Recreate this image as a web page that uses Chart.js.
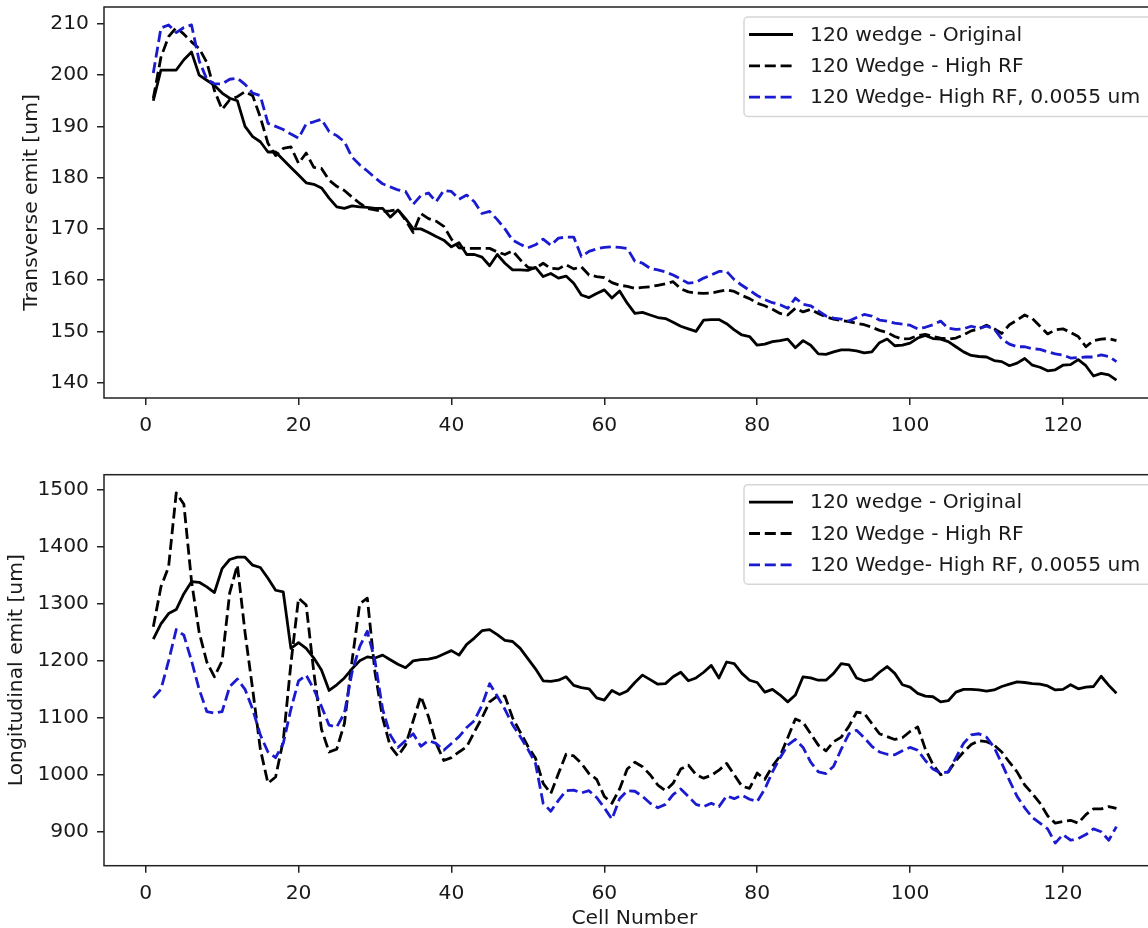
<!DOCTYPE html>
<html>
<head>
<meta charset="utf-8">
<script src="https://cdn.jsdelivr.net/npm/chart.js@4.4.1/dist/chart.umd.min.js"></script>
<style>
  html, body { margin: 0; padding: 0; background: #fff; overflow: hidden; }
  #wrap { position: relative; width: 1148px; height: 928px; overflow: hidden; background: #fff; }
  #wrap canvas { position: absolute; left: 0; }
  #transCanvas { top: 0; }
  #longCanvas { top: 440px; }
</style>
</head>
<body>
<div id="wrap">
  <canvas id="transCanvas" width="1180" height="440" style="width:1180px;height:440px"></canvas>
  <canvas id="longCanvas" width="1180" height="491" style="width:1180px;height:491px"></canvas>
</div>
<script>
// Cell index along the channel
const cells = [
  1, 2, 3, 4, 5, 6, 7, 8, 9, 10, 11, 12, 13, 14, 15, 16, 17, 18, 19, 20,
  21, 22, 23, 24, 25, 26, 27, 28, 29, 30, 31, 32, 33, 34, 35, 36, 37, 38, 39, 40,
  41, 42, 43, 44, 45, 46, 47, 48, 49, 50, 51, 52, 53, 54, 55, 56, 57, 58, 59, 60,
  61, 62, 63, 64, 65, 66, 67, 68, 69, 70, 71, 72, 73, 74, 75, 76, 77, 78, 79, 80,
  81, 82, 83, 84, 85, 86, 87, 88, 89, 90, 91, 92, 93, 94, 95, 96, 97, 98, 99, 100,
  101, 102, 103, 104, 105, 106, 107, 108, 109, 110, 111, 112, 113, 114, 115, 116, 117, 118, 119, 120,
  121, 122, 123, 124, 125, 126, 127
];

const seriesLabels = ['120 wedge - Original', '120 Wedge - High RF', '120 Wedge- High RF, 0.0055 um'];

// Transverse emittance [um]
const transOriginal = [
  195, 201, 201, 201, 203, 204.5, 200, 199, 198, 196.5,
  195.5, 195, 190, 188, 187, 185, 185, 183.5, 182, 180.5,
  179, 178.7, 178, 176, 174.3, 174, 174.5, 174.3, 174.2, 174,
  174, 172.3, 173.7, 172, 170, 170, 169.3, 168.5, 167.8, 166.5,
  167.3, 165, 165, 164.5, 162.8, 165, 163.3, 162, 162, 161.9,
  162.5, 160.7, 161.3, 160.4, 160.8, 159.4, 157.1, 156.6, 157.4, 158.1,
  156.5, 157.9, 155.5, 153.5, 153.7, 153.2, 152.7, 152.5, 151.8, 151,
  150.5, 150, 152.2, 152.3, 152.3, 151.5, 150.3, 149.3, 149, 147.3,
  147.5, 148, 148.2, 148.5, 146.8, 148.2, 147.3, 145.6, 145.5, 146,
  146.4, 146.4, 146.2, 145.8, 146, 147.8, 148.5, 147.2, 147.3, 147.7,
  148.7, 149.2, 148.6, 148.5, 148, 147, 146, 145.3, 145.1, 145,
  144.3, 144.1, 143.3, 143.8, 144.7, 143.4, 143, 142.3, 142.5, 143.4,
  143.5, 144.5, 143.3, 141.3, 141.8, 141.5, 140.5
];
const transHighRF = [
  195.5, 203.5, 207.5, 209.3, 208, 206.5, 205.2, 202.5, 197, 193.3,
  195.2, 195.8, 196.8, 196, 191.8, 186.7, 184.3, 185.7, 186, 182.8,
  184.8, 182, 181.8, 179.5, 178.3, 177.5, 176.2, 175, 174, 173.7,
  173.4, 173.5, 173.8, 171.7, 169.3, 173, 172, 171.5, 170.5, 168,
  166.3, 166.2, 166.2, 166.2, 166.2, 165.5, 165, 165.7, 164, 162.5,
  162.3, 163.3, 162.3, 162.2, 163, 162.2, 162.6, 161, 160.7, 160.5,
  159.5, 159, 158.8, 158.4, 158.6, 158.7, 159, 159.3, 159.7, 158.3,
  157.7, 157.5, 157.4, 157.5, 157.8, 158.1, 157.8, 157, 156.4, 155.5,
  155, 154.3, 153.5, 153.2, 154.5, 153.8, 154.3, 153.5, 152.8, 152.4,
  152.1, 151.9, 151.6, 151.3, 150.8, 150.2, 149.8, 149, 148.5, 148.6,
  149.2, 149.4, 149, 148.7, 148.5, 148.7, 149.3, 150.1, 150.5, 151.2,
  150.5, 149.6, 151.3, 152.2, 153.2, 152.5, 151, 149.5, 150.3, 150.5,
  149.8, 149, 147, 148.2, 148.5, 148.6, 148.2
];
const transHighRFThin = [
  200.4, 209.2, 209.8, 208.3, 209.3, 209.8, 202.8, 199.2, 198.3, 198.3,
  199.2, 199.4, 198.2, 196.5, 196, 190.6, 190, 189.4, 188.5, 187.7,
  190.5, 190.9, 191.4, 189, 188.2, 187, 184, 182.5, 181.3, 180,
  178.8, 178.2, 177.6, 177.3, 174.8, 176.5, 177, 175.3, 177.5, 177.3,
  175.8, 176.6, 175.3, 173, 173.4, 171.8, 170, 167.8, 167, 166.3,
  166.9, 168, 166.8, 168.2, 168.4, 168.4, 164.6, 165.6, 166.1, 166.4,
  166.5, 166.4, 166.2, 163.7, 163.3, 162.3, 162, 161.6, 161, 160.2,
  159.4, 159.6, 160.4, 161, 161.7, 161.7, 160.1, 159, 158, 157,
  156.2, 155.6, 155.2, 154.5, 156.5, 155.3, 155, 154, 153, 152.6,
  152.4, 152, 152.7, 153.3, 153, 152.2, 152, 151.6, 151.4, 151.2,
  150.5, 150.8, 151.3, 152, 150.6, 150.4, 150.5, 151, 150.6, 151,
  150.5, 148.5, 147.5, 147, 147, 146.6, 146.5, 146, 145.6, 145.4,
  144.8, 144.9, 145, 145, 145.4, 145.1, 144.1
];

// Longitudinal emittance [um]
const longOriginal = [
  1238, 1265, 1283, 1290, 1318, 1339, 1338, 1330, 1320, 1362,
  1378, 1382, 1382, 1368, 1364, 1345, 1324, 1321, 1222, 1232,
  1222, 1205, 1184, 1148, 1158, 1170, 1186, 1200, 1207, 1205,
  1210, 1202, 1194, 1188, 1200, 1202, 1203, 1206, 1212, 1218,
  1210, 1229, 1240, 1253, 1255, 1246, 1236, 1234, 1222, 1204,
  1186, 1165, 1164, 1166, 1172, 1157, 1153, 1151, 1135, 1131,
  1148, 1141, 1147, 1162, 1175, 1167, 1159, 1160, 1172, 1180,
  1165, 1170, 1180, 1192, 1170, 1198, 1195, 1178, 1166, 1162,
  1145, 1150, 1140, 1128, 1140, 1172, 1170, 1166, 1166, 1178,
  1195, 1193, 1170, 1165, 1168, 1180, 1190, 1178, 1158, 1154,
  1143, 1138, 1137, 1128, 1130, 1145, 1150, 1150, 1149, 1147,
  1149, 1155, 1159, 1163, 1162, 1160, 1159, 1156, 1149, 1150,
  1158, 1151, 1154, 1155, 1173, 1157, 1143
];
const longHighRF = [
  1260, 1330, 1365, 1495, 1475, 1340, 1250, 1198, 1172, 1200,
  1320, 1368, 1250, 1150, 1045, 985, 996, 1060, 1195, 1310,
  1298, 1180, 1080, 1040, 1045, 1090, 1200, 1300, 1310, 1180,
  1100, 1050, 1033, 1052, 1095, 1138, 1102, 1055, 1025, 1030,
  1040, 1049, 1075, 1100, 1128, 1138, 1138, 1100, 1075, 1050,
  1029, 985, 967, 1002, 1036, 1033, 1020, 1002, 992, 962,
  950, 975, 1010, 1022, 1014, 1000, 982, 972, 985, 1010,
  1017, 1000, 994, 999, 1008, 1020, 1000, 980, 976, 1003,
  992, 1015, 1033, 1065, 1098, 1092, 1072, 1052, 1042, 1058,
  1066, 1085, 1110, 1108, 1090, 1072, 1067, 1062, 1065, 1076,
  1084, 1045, 1018, 1000, 1005, 1025, 1040, 1053, 1060, 1058,
  1052, 1040, 1022, 1005, 982, 967, 950, 928, 915, 918,
  920, 915, 930, 940, 940, 944, 941
];
const longHighRFThin = [
  1135, 1150, 1200, 1255, 1245, 1200, 1150, 1111, 1108, 1111,
  1155, 1168, 1150, 1115, 1070, 1040, 1030, 1055, 1115, 1165,
  1175, 1150, 1120, 1087, 1084, 1108, 1180, 1225, 1252, 1200,
  1115, 1070, 1048, 1060, 1072, 1050, 1060, 1055, 1043, 1055,
  1067, 1083, 1095, 1122, 1160, 1138, 1115, 1088, 1067, 1045,
  1020, 950, 936, 955, 972, 973, 968, 972, 960, 942,
  922, 958, 972, 971, 962, 950, 942, 948, 965, 975,
  962, 948, 944, 950, 944, 963, 958, 964, 957, 953,
  975, 1005, 1030, 1052, 1062, 1048, 1022, 1005, 1002, 1015,
  1045, 1072, 1078, 1065, 1050, 1040, 1036, 1035, 1042, 1048,
  1043, 1025, 1010, 1003, 1005, 1030, 1055, 1070, 1072, 1066,
  1048, 1020, 990, 962, 942, 925, 915, 905, 880, 895,
  885, 888, 895, 905, 900, 885, 909
];

// Tick values
const xTicks = [0, 20, 40, 60, 80, 100, 120];
const transTicks = [140, 150, 160, 170, 180, 190, 200, 210];
const longTicks = [900, 1000, 1100, 1200, 1300, 1400, 1500];

const FONT = { family: '"DejaVu Sans", sans-serif', size: 20.3 };
const TEXT = '#1a1a1a';
const SPINE = '#222';
const BLUE = '#1a1ad0';

function pairs(values) {
  return cells.map((c, i) => ({ x: c, y: values[i] }));
}

function makeDatasets(original, highRF, thin) {
  const common = { pointRadius: 0, pointHoverRadius: 0, borderWidth: 2.8, tension: 0,
                   borderJoinStyle: 'round', fill: false };
  return [
    Object.assign({ label: seriesLabels[0], data: pairs(original), borderColor: '#000', order: 2 }, common),
    Object.assign({ label: seriesLabels[1], data: pairs(highRF), borderColor: '#000', borderDash: [11, 4.8], order: 1 }, common),
    Object.assign({ label: seriesLabels[2], data: pairs(thin), borderColor: BLUE, borderDash: [11, 4.8], order: 0 }, common)
  ];
}

// Framed legend in the upper right corner of the plot area
const cornerLegend = {
  id: 'cornerLegend',
  afterDatasetsDraw(chart) {
    const { ctx, chartArea } = chart;
    const left = 744;
    const top = chartArea.top + 10;
    const right = chartArea.right - 10;
    const height = 99.5;
    ctx.save();
    ctx.beginPath();
    ctx.roundRect(left, top, right - left, height, 4);
    ctx.fillStyle = 'rgba(255,255,255,0.8)';
    ctx.fill();
    ctx.lineWidth = 1.5;
    ctx.strokeStyle = 'rgba(204,204,204,0.8)';
    ctx.stroke();
    ctx.font = FONT.size + 'px ' + FONT.family;
    ctx.textAlign = 'left';
    ctx.textBaseline = 'middle';
    chart.data.datasets.forEach((ds, i) => {
      const y = top + 17.5 + i * 31.3;
      ctx.beginPath();
      ctx.setLineDash(ds.borderDash || []);
      ctx.lineDashOffset = 0;
      ctx.lineWidth = ds.borderWidth;
      ctx.strokeStyle = ds.borderColor;
      ctx.moveTo(749, y);
      ctx.lineTo(793, y);
      ctx.stroke();
      ctx.setLineDash([]);
      ctx.fillStyle = TEXT;
      ctx.fillText(ds.label, 810, y + 1);
    });
    ctx.restore();
  }
};

// Box around the plot area
const frame = {
  id: 'frame',
  afterDraw(chart) {
    const { ctx, chartArea } = chart;
    ctx.save();
    ctx.lineWidth = 1.5;
    ctx.strokeStyle = SPINE;
    ctx.strokeRect(chartArea.left, chartArea.top, chartArea.right - chartArea.left, chartArea.bottom - chartArea.top);
    ctx.restore();
  }
};

function makeChart(canvasId, cfg) {
  const canvas = document.getElementById(canvasId);
  const H = canvas.height;
  return new Chart(canvas, {
    type: 'line',
    data: { datasets: makeDatasets(cfg.original, cfg.highRF, cfg.thin) },
    plugins: [cornerLegend, frame],
    options: {
      responsive: false,
      animation: false,
      devicePixelRatio: 1,
      events: [],
      layout: { autoPadding: false, padding: { left: 0, top: cfg.areaTop, right: 15.4, bottom: 0 } },
      plugins: { legend: { display: false }, tooltip: { enabled: false }, title: { display: false } },
      scales: {
        x: {
          type: 'linear',
          min: -5.45,
          max: 133.3,
          afterBuildTicks: s => { s.ticks = xTicks.map(v => ({ value: v })); },
          afterFit: s => { s.height = H - cfg.areaBottom; s.paddingLeft = 0; s.paddingRight = 0; },
          grid: { drawOnChartArea: false, drawTicks: true, tickLength: 7, color: SPINE, lineWidth: 1.5 },
          border: { display: false },
          ticks: { font: FONT, color: TEXT, padding: 9, maxRotation: 0, autoSkip: false, callback: v => String(v) },
          title: { display: cfg.xTitle, text: 'Cell Number', font: FONT, color: TEXT, padding: { top: 0, bottom: 0 } }
        },
        y: {
          type: 'linear',
          min: cfg.yMin,
          max: cfg.yMax,
          afterBuildTicks: s => { s.ticks = cfg.yTicks.map(v => ({ value: v })); },
          afterFit: s => { s.width = 104; s.paddingTop = 0; s.paddingBottom = 0; },
          grid: { drawOnChartArea: false, drawTicks: true, tickLength: 7, color: SPINE, lineWidth: 1.5 },
          border: { display: false },
          ticks: { font: FONT, color: TEXT, padding: 8, autoSkip: false, callback: v => String(v) },
          title: { display: true, text: cfg.yTitle, font: FONT, color: TEXT, padding: { top: cfg.yTitlePad, bottom: 0 } }
        }
      }
    }
  });
}

makeChart('transCanvas', {
  original: transOriginal, highRF: transHighRF, thin: transHighRFThin,
  yMin: 137.0, yMax: 213.3, yTicks: transTicks,
  yTitle: 'Transverse emit [um]', yTitlePad: 19.5,
  areaTop: 7, areaBottom: 398, xTitle: false
});

makeChart('longCanvas', {
  original: longOriginal, highRF: longHighRF, thin: longHighRFThin,
  yMin: 840.3, yMax: 1526.9, yTicks: longTicks,
  yTitle: 'Longitudinal emit [um]', yTitlePad: 5,
  areaTop: 34.7, areaBottom: 425.7, xTitle: true
});
</script>
</body>
</html>
